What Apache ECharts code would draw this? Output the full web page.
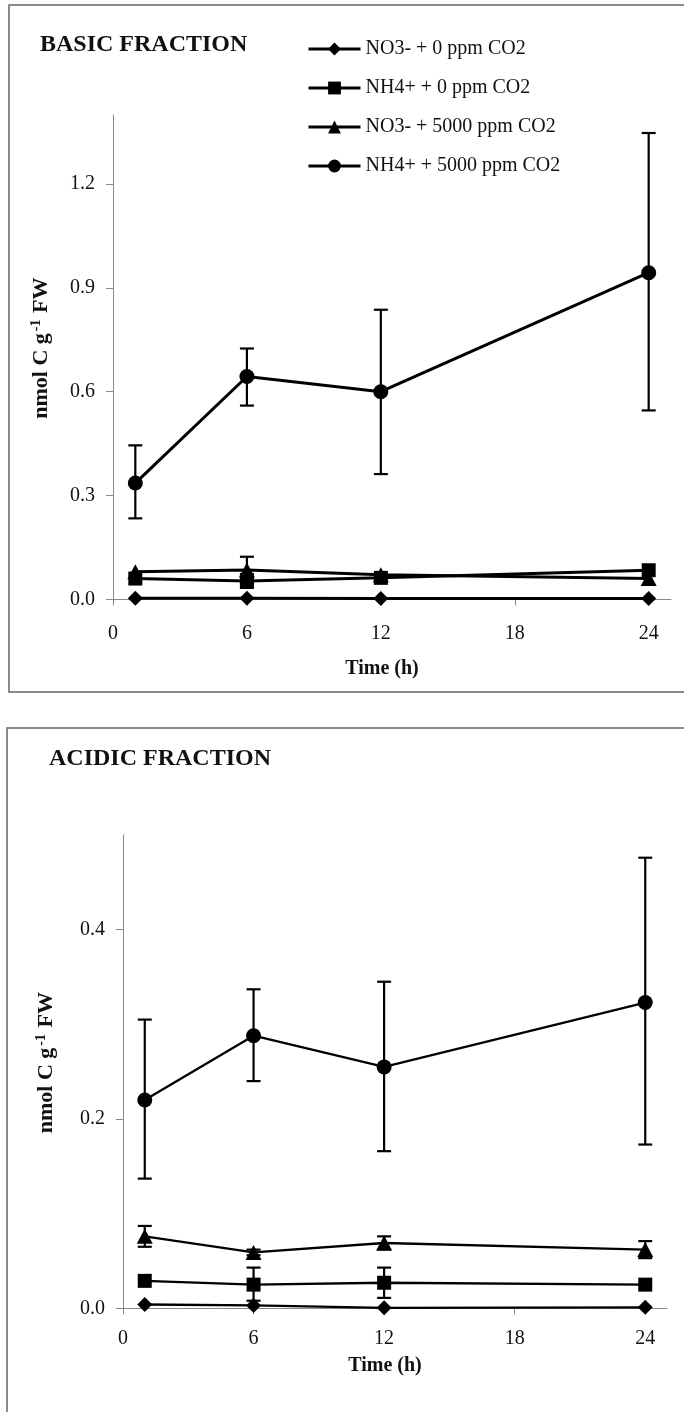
<!DOCTYPE html>
<html>
<head>
<meta charset="utf-8">
<script src="https://cdn.jsdelivr.net/npm/echarts@6/dist/echarts.min.js"></script>
<style>
html,body{margin:0;padding:0;background:#fff;}
#c{width:684px;height:1412px;}
</style>
</head>
<body>
<div id="c"></div>
<script>
// ---- data ----
var times = [1, 6, 12, 24];
var seriesNames = ['NO3- + 0 ppm CO2', 'NH4+ + 0 ppm CO2', 'NO3- + 5000 ppm CO2', 'NH4+ + 5000 ppm CO2'];
var xTicks = [0, 6, 12, 18, 24];
var yTicksBasic = [0, 0.3, 0.6, 0.9, 1.2];
var yTicksAcidic = [0, 0.2, 0.4];

// Basic fraction
var basicNO3_0 = [0.003, 0.003, 0.002, 0.002];
var basicNH4_0 = [0.060, 0.053, 0.062, 0.084];
var basicNO3_5000 = [0.080, 0.085, 0.071, 0.060];
var basicNH4_5000 = [0.336, 0.644, 0.600, 0.944];
var basicNH4_5000Low = [0.234, 0.560, 0.362, 0.546];
var basicNH4_5000High = [0.445, 0.725, 0.837, 1.348];
var basicNO3_5000Low = [null, 0.047, null, null];
var basicNO3_5000High = [null, 0.123, null, null];
var basicNH4_0Low = [null, 0.033, null, null];
var basicNH4_0High = [null, 0.073, null, null];

// Acidic fraction
var acidNO3_0 = [0.004, 0.003, 0.0005, 0.001];
var acidNH4_0 = [0.029, 0.025, 0.027, 0.025];
var acidNO3_5000 = [0.076, 0.059, 0.069, 0.062];
var acidNH4_5000 = [0.220, 0.288, 0.255, 0.323];
var acidNH4_5000Low = [0.137, 0.240, 0.166, 0.173];
var acidNH4_5000High = [0.305, 0.337, 0.345, 0.476];
var acidNO3_5000Low = [0.065, 0.056, 0.062, 0.053];
var acidNO3_5000High = [0.087, 0.062, 0.076, 0.071];
var acidNH4_0Low = [null, 0.008, 0.011, null];
var acidNH4_0High = [null, 0.043, 0.043, null];

// ---- build ----
var FONT = '"Liberation Serif", "Times New Roman", serif';
var symbols = ['diamond', 'rect', 'triangle', 'circle'];
var symbolSizes = [[15, 15], [14, 14], [16, 15], [15, 15]];

function pairs(vals) { return times.map(function (t, i) { return [t, vals[i]]; }); }
function errData(lo, hi) {
  var out = [];
  times.forEach(function (t, i) { if (lo[i] != null && hi[i] != null) out.push([t, lo[i], hi[i]]); });
  return out;
}
function errRender(params, api) {
  var x = api.value(0), lo = api.value(1), hi = api.value(2);
  var a = api.coord([x, lo]), b = api.coord([x, hi]);
  var w = 7;
  var st = { stroke: '#000', lineWidth: 2.2 };
  return { type: 'group', children: [
    { type: 'line', shape: { x1: a[0], y1: a[1], x2: b[0], y2: b[1] }, style: st },
    { type: 'line', shape: { x1: a[0] - w, y1: a[1], x2: a[0] + w, y2: a[1] }, style: st },
    { type: 'line', shape: { x1: b[0] - w, y1: b[1], x2: b[0] + w, y2: b[1] }, style: st }
  ]};
}

var series = [];
function addPanel(idx, vals, lw, errs) {
  vals.forEach(function (v, k) {
    series.push({
      name: seriesNames[k], type: 'line', xAxisIndex: idx, yAxisIndex: idx,
      data: pairs(v), symbol: symbols[k], symbolSize: symbolSizes[k],
      lineStyle: { color: '#000', width: lw }, itemStyle: { color: '#000' },
      z: 3, animation: false
    });
  });
  errs.forEach(function (e) {
    series.push({
      type: 'custom', xAxisIndex: idx, yAxisIndex: idx, renderItem: errRender,
      data: errData(e[0], e[1]), z: 2, animation: false, silent: true
    });
  });
}
addPanel(0, [basicNO3_0, basicNH4_0, basicNO3_5000, basicNH4_5000], 3,
  [[basicNH4_5000Low, basicNH4_5000High], [basicNO3_5000Low, basicNO3_5000High], [basicNH4_0Low, basicNH4_0High]]);
addPanel(1, [acidNO3_0, acidNH4_0, acidNO3_5000, acidNH4_5000], 2.3,
  [[acidNH4_5000Low, acidNH4_5000High], [acidNO3_5000Low, acidNO3_5000High], [acidNH4_0Low, acidNH4_0High]]);

function xAxis(gi, margin, gap) {
  return {
    type: 'value', gridIndex: gi, min: 0, max: 25,
    axisLine: { lineStyle: { color: '#888', width: 1 } },
    axisTick: { show: true, length: 6, lineStyle: { color: '#888' }, customValues: xTicks },
    axisLabel: { customValues: xTicks, margin: margin, color: '#111', fontFamily: FONT, fontSize: 20 },
    splitLine: { show: false },
    name: 'Time (h)', nameLocation: 'middle', nameGap: gap,
    nameTextStyle: { fontFamily: FONT, fontWeight: 'bold', fontSize: 20, color: '#111', padding: [0, 20, 0, 0] }
  };
}
function yAxis(gi, max, ticks, gap, shift) {
  return {
    type: 'value', gridIndex: gi, min: 0, max: max,
    axisLine: { show: true, lineStyle: { color: '#888', width: 1 } },
    axisTick: { show: true, length: 7, lineStyle: { color: '#888' }, customValues: ticks },
    axisLabel: { customValues: ticks, margin: 18, color: '#111', fontFamily: FONT, fontSize: 20,
      formatter: function (v) { return v.toFixed(1); } },
    splitLine: { show: false },
    name: '{b|nmol C g}{s|-1}{b| FW}', nameLocation: 'middle', nameRotate: 90, nameGap: gap,
    nameTextStyle: {
      padding: [0, 0, 0, shift],
      rich: {
        b: { fontFamily: FONT, fontWeight: 'bold', fontSize: 22, color: '#111', lineHeight: 24 },
        s: { fontFamily: FONT, fontWeight: 'bold', fontSize: 14, color: '#111', verticalAlign: 'top', lineHeight: 24, padding: [0, 1, 9, 2] }
      }
    }
  };
}

var option = {
  backgroundColor: '#fff',
  animation: false,
  grid: [
    { left: 113, right: 13, top: 115, bottom: 812.7 },
    { left: 123, right: 17, top: 835, bottom: 103.7 }
  ],
  xAxis: [xAxis(0, 24, 60), xAxis(1, 20, 48)],
  yAxis: [yAxis(0, 1.4, yTicksBasic, 60, 18), yAxis(1, 0.5, yTicksAcidic, 65, 18)],
  legend: {
    show: true, orient: 'vertical', left: 302, top: 34,
    itemWidth: 52, itemHeight: 16, itemGap: 19,
    data: seriesNames,
    lineStyle: { width: 3, color: '#000' },
    textStyle: { fontFamily: FONT, fontSize: 20, color: '#111', lineHeight: 20 },
    selectedMode: false
  },
  graphic: [
    { type: 'rect', shape: { x: 9, y: 5, width: 700, height: 687 }, style: { fill: 'none', stroke: '#666', lineWidth: 1.5 }, silent: true },
    { type: 'rect', shape: { x: 7, y: 728, width: 700, height: 720 }, style: { fill: 'none', stroke: '#666', lineWidth: 1.5 }, silent: true },
    { type: 'text', left: 40, top: 33, style: { text: 'BASIC FRACTION', font: 'bold 24px ' + FONT, fill: '#111' } },
    { type: 'text', left: 49, top: 747, style: { text: 'ACIDIC FRACTION', font: 'bold 24px ' + FONT, fill: '#111' } }
  ],
  series: series
};
var chart = echarts.init(document.getElementById('c'), null, { renderer: 'canvas' });
chart.setOption(option);
</script>
</body>
</html>
